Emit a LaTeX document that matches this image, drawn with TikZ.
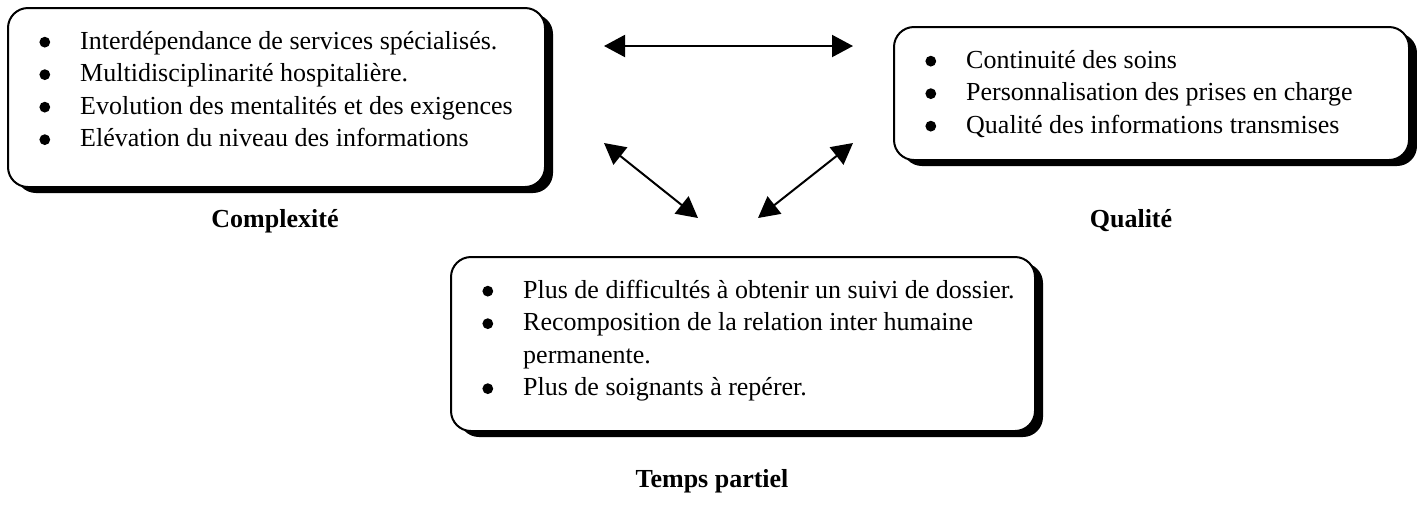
\documentclass[tikz,border=0pt]{standalone}
\usepackage{fontspec}
\setmainfont{Liberation Serif}
\usetikzlibrary{arrows.meta,shadows}
\newcommand{\puce}{\tikz[baseline=-3.6pt,x=1pt,y=1pt]\fill (0,0) circle [radius=2.7pt];}
\begin{document}
\begin{tikzpicture}[x=0.5pt,y=-0.5pt,>={Triangle[length=10.5pt,width=11pt]},
    font=\fontsize{13}{16.25}\selectfont,
    boite/.style={draw, line width=1pt, rounded corners=10pt, fill=white, anchor=north west, inner sep=0pt,
        general shadow={fill=black, shadow xshift=4pt, shadow yshift=-3pt}},
    liste/.style={anchor=north west, inner sep=0pt, xshift=16pt, yshift=-9.6pt},
    titre/.style={anchor=base, font=\fontsize{13}{16.25}\selectfont\bfseries},
    fleche/.style={<->, line width=1pt}]
    \useasboundingbox (0,0) rectangle (1417,505);
    % cadres
    \node[boite, minimum width=268.5pt, minimum height=89.5pt] (cplx) at (7,7) {};
    \node[boite, minimum width=257.5pt, minimum height=66.5pt] (qual) at (893,26) {};
    \node[boite, minimum width=292pt, minimum height=87pt] (temps) at (450,256) {};
    \node[liste] (cplx-l) at (cplx.north west) {\begin{tabular}{@{}c@{\hspace{15pt}}l@{}}
        \puce & Interdépendance de services spécialisés.\\
        \puce & Multidisciplinarité hospitalière.\\
        \puce & Evolution des mentalités et des exigences\\
        \puce & Elévation du niveau des informations
    \end{tabular}};
    \node[liste] (qual-l) at (qual.north west) {\begin{tabular}{@{}c@{\hspace{15pt}}l@{}}
        \puce & Continuité des soins\\
        \puce & Personnalisation des prises en charge\\
        \puce & Qualité des informations transmises
    \end{tabular}};
    \node[liste] (temps-l) at (temps.north west) {\begin{tabular}{@{}c@{\hspace{15pt}}l@{}}
        \puce & Plus de difficultés à obtenir un suivi de dossier.\\
        \puce & Recomposition de la relation inter humaine\\
              & permanente.\\
        \puce & Plus de soignants à repérer.
    \end{tabular}};
    % titres
    \node[titre] (cplx-t) at (275,227) {Complexité};
    \node[titre] (qual-t) at (1131,227) {Qualité};
    \node[titre] (temps-t) at (712,487) {Temps partiel};
    % fleches
    \coordinate (h1) at (604,46);
    \coordinate (h2) at (853,46);
    \coordinate (g1) at (604,143);
    \coordinate (g2) at (698,218);
    \coordinate (d1) at (853,143);
    \coordinate (d2) at (758,218);
    \draw[fleche] (h1) -- (h2);
    \draw[fleche] (g1) -- (g2);
    \draw[fleche] (d1) -- (d2);
\end{tikzpicture}
\end{document}
